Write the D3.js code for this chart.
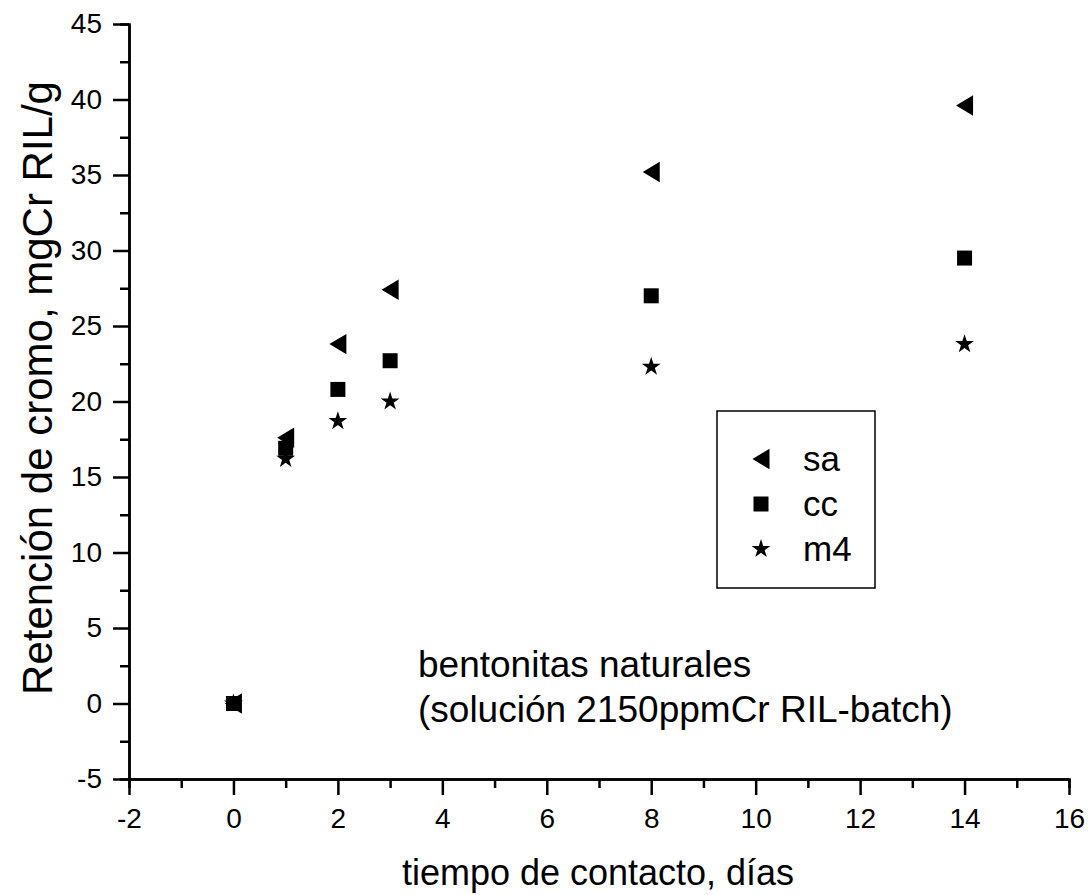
<!DOCTYPE html>
<html>
<head>
<meta charset="utf-8">
<script src="https://cdn.jsdelivr.net/npm/d3@7"></script>
<style>
    body { margin: 0; background: #fff; }
    text { font-family: "Liberation Sans", Arial, sans-serif; fill: #000; }
</style>
</head>
<body>
<script>
//days of contact
var dias = [0, 1, 2, 3, 8, 14];

//chromium retention per bentonite, mgCr RIL/g
var sa = [0, 17.6, 23.8, 27.4, 35.2, 39.6];
var cc = [0, 16.9, 20.8, 22.7, 27.0, 29.5];
var m4 = [0, 16.2, 18.7, 20.0, 22.3, 23.8];

var seriesNames = ["sa", "cc", "m4"];
var xTicks = [-2, 0, 2, 4, 6, 8, 10, 12, 14, 16];
var yTicks = [-5, 0, 5, 10, 15, 20, 25, 30, 35, 40, 45];

window.onload = setChart();

function setChart(){

    var width = 1090,
        height = 895;

    var svg = d3.select("body")
        .append("svg")
        .attr("width", width)
        .attr("height", height);

    //plot frame
    var x = d3.scaleLinear().domain([-2, 16]).range([129, 1069]);
    var y = d3.scaleLinear().domain([-5, 45]).range([779, 24]);

    //plain hyphen for negatives, like the original
    var fmt = function(d){ return d < 0 ? "-" + Math.abs(d) : String(d); };

    //minor ticks first
    var xMinor = d3.range(-1, 16, 2);
    var yMinor = d3.range(-2.5, 45, 5);

    svg.append("g")
        .attr("transform", "translate(0," + y(-5) + ")")
        .call(d3.axisBottom(x).tickValues(xMinor).tickSize(9).tickFormat(""))
        .call(styleAxis);

    svg.append("g")
        .attr("transform", "translate(" + x(-2) + ",0)")
        .call(d3.axisLeft(y).tickValues(yMinor).tickSize(9).tickFormat(""))
        .call(styleAxis);

    //main axes
    svg.append("g")
        .attr("transform", "translate(0," + y(-5) + ")")
        .call(d3.axisBottom(x).tickValues(xTicks).tickFormat(fmt).tickSize(16).tickPadding(13).tickSizeOuter(0))
        .call(styleAxis);

    svg.append("g")
        .attr("transform", "translate(" + x(-2) + ",0)")
        .call(d3.axisLeft(y).tickValues(yTicks).tickFormat(fmt).tickSize(16).tickPadding(11).tickSizeOuter(0))
        .call(styleAxis);

    function styleAxis(g){
        g.select(".domain").attr("stroke", "#000").attr("stroke-width", 2.5);
        g.selectAll(".tick line").attr("stroke", "#000").attr("stroke-width", 2.5);
        g.selectAll(".tick text")
            .style("font-family", "'Liberation Sans', Arial, sans-serif")
            .style("font-size", "28px")
            .attr("fill", "#000");
    }

    //axis titles
    svg.append("text")
        .attr("x", 598)
        .attr("y", 885)
        .attr("text-anchor", "middle")
        .style("font-size", "36px")
        .text("tiempo de contacto, días");

    svg.append("text")
        .attr("transform", "translate(52,388) rotate(-90)")
        .attr("text-anchor", "middle")
        .style("font-size", "42px")
        .text("Retención de cromo, mgCr RIL/g");

    //annotation
    svg.append("text")
        .attr("x", 418)
        .attr("y", 677)
        .style("font-size", "37px")
        .text("bentonitas naturales");

    svg.append("text")
        .attr("x", 418)
        .attr("y", 722)
        .style("font-size", "37px")
        .text("(solución 2150ppmCr RIL-batch)");

    //symbols
    var triangle = d3.symbol().type({
        draw: function(ctx, size){
            var h = Math.sqrt(size);
            ctx.moveTo(-h * 0.5, 0);
            ctx.lineTo(h * 0.5, -h * 0.6);
            ctx.lineTo(h * 0.5, h * 0.6);
            ctx.closePath();
        }
    }).size(290);
    var square = d3.symbol().type(d3.symbolSquare).size(225);
    var star = d3.symbol().type(d3.symbolStar).size(110);
    var symbols = [triangle, square, star];

    var allSeries = [sa, cc, m4];

    allSeries.forEach(function(vals, i){
        svg.append("g")
            .attr("class", "series " + seriesNames[i])
            .selectAll("path")
            .data(vals)
            .enter()
            .append("path")
            .attr("d", symbols[i])
            .attr("fill", "#000")
            .attr("transform", function(d, j){
                return "translate(" + x(dias[j]) + "," + y(d) + ")";
            });
    });

    //legend
    var legend = svg.append("g");
    legend.append("rect")
        .attr("x", 717)
        .attr("y", 411)
        .attr("width", 158)
        .attr("height", 177)
        .attr("fill", "none")
        .attr("stroke", "#000")
        .attr("stroke-width", 1.5);

    seriesNames.forEach(function(name, i){
        var ly = 459 + i * 45;
        legend.append("path")
            .attr("d", symbols[i])
            .attr("fill", "#000")
            .attr("transform", "translate(761," + ly + ")");
        legend.append("text")
            .attr("x", 803)
            .attr("y", ly + 12)
            .style("font-size", "35px")
            .text(name);
    });
};
</script>
</body>
</html>
